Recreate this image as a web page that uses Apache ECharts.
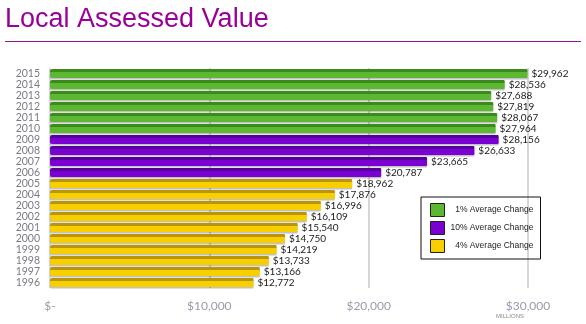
<!DOCTYPE html>
<html>
<head>
<meta charset="utf-8">
<script src="https://cdn.jsdelivr.net/npm/echarts@6/dist/echarts.min.js"></script>
<style>
  html, body { margin: 0; padding: 0; background: #fff; }
  #chart { width: 586px; height: 324px; }
</style>
</head>
<body>
<div id="chart"></div>
<script>
// Fiscal years, newest first
const years = ['2015','2014','2013','2012','2011','2010','2009','2008','2007','2006',
               '2005','2004','2003','2002','2001','2000','1999','1998','1997','1996'];
// Local assessed value, $ millions
const values = [29962, 28536, 27688, 27819, 28067, 27964, 28156, 26633, 23665, 20787,
                18962, 17876, 16996, 16109, 15540, 14750, 14219, 13733, 13166, 12772];
// Growth period each year belongs to
const periods = ['1','1','1','1','1','1','10','10','10','10',
                 '4','4','4','4','4','4','4','4','4','4'];
const groupNames = { '1': '1% Average Change', '10': '10% Average Change', '4': '4% Average Change' };
const groupColors = {
  '1':  { main: '#5cb731', dark: '#3d8a1c' },
  '10': { main: '#7b00d2', dark: '#55009a' },
  '4':  { main: '#f7cf00', dark: '#b8950a' }
};
const axisTicks = [0, 10000, 20000, 30000];

const money = v => '$' + v.toLocaleString('en-US');

function barFill(c) {
  return new echarts.graphic.LinearGradient(0, 0, 0, 1, [
    { offset: 0, color: c.dark },
    { offset: 0.28, color: c.dark },
    { offset: 0.34, color: c.main },
    { offset: 1, color: c.main }
  ]);
}

const series = ['1', '10', '4'].map(key => ({
  name: groupNames[key],
  type: 'bar',
  stack: 'v',
  barWidth: 9,
  data: values.map((v, i) => periods[i] === key ? v : null),
  itemStyle: {
    color: barFill(groupColors[key]),
    borderRadius: [2, 1, 1, 2],
    shadowColor: 'rgba(0,0,0,0.25)',
    shadowOffsetY: 1.5,
    shadowBlur: 1
  },
  label: {
    show: true,
    position: 'right',
    distance: 4,
    formatter: p => money(p.value),
    color: '#1a1a1a',
    fontFamily: 'Lato',
    fontSize: 10
  }
}));

const chart = echarts.init(document.getElementById('chart'), null, { renderer: 'canvas' });
chart.setOption({
  animation: false,
  title: {
    text: 'Local Assessed Value',
    left: 0,
    top: 1,
    textStyle: { color: '#990099', fontFamily: 'Liberation Sans', fontSize: 27, fontWeight: 'normal' }
  },
  grid: { left: 50, right: 58, top: 68, height: 220 },
  legend: {
    orient: 'vertical',
    left: 421,
    top: 197,
    itemWidth: 14,
    itemHeight: 13,
    itemGap: 4,
    padding: [6, 7, 6, 9],
    borderColor: '#111',
    borderWidth: 1,
    icon: 'rect',
    itemStyle: { borderColor: '#222', borderWidth: 1 },
    data: ['1', '10', '4'].map(key => ({
      name: groupNames[key],
      itemStyle: { color: groupColors[key].main }
    })),
    formatter: name => '{t|' + name + '}',
    textStyle: {
      color: '#222', fontFamily: 'Liberation Sans', fontSize: 8.5,
      rich: { t: { width: 84, align: 'right', color: '#222', fontFamily: 'Liberation Sans', fontSize: 8.5 } }
    }
  },
  xAxis: {
    type: 'value',
    min: 0,
    max: 30000,
    interval: 10000,
    axisLine: { show: false },
    axisTick: { show: false },
    splitLine: { show: true, lineStyle: { color: '#c8c8c8', width: 1.5 } },
    axisLabel: {
      margin: 12,
      color: '#9a9aae',
      fontFamily: 'Lato',
      fontSize: 12,
      customValues: axisTicks,
      formatter: v => v === 0 ? '$-' : money(v)
    }
  },
  yAxis: {
    type: 'category',
    data: years,
    inverse: true,
    axisLine: { show: true, lineStyle: { color: '#e2e2e2' } },
    axisTick: { show: false },
    axisLabel: { interval: 0, margin: 10, color: '#7a7a86', fontFamily: 'Lato', fontSize: 10.5 }
  },
  graphic: [
    { type: 'line', shape: { x1: 5, y1: 41.5, x2: 581, y2: 41.5 }, style: { stroke: '#8b1a8b', lineWidth: 1 } },
    { type: 'text', left: 496, top: 313, style: { text: 'MILLIONS', fill: '#888', font: '6px Liberation Sans' } }
  ],
  series: series
});
</script>
</body>
</html>
